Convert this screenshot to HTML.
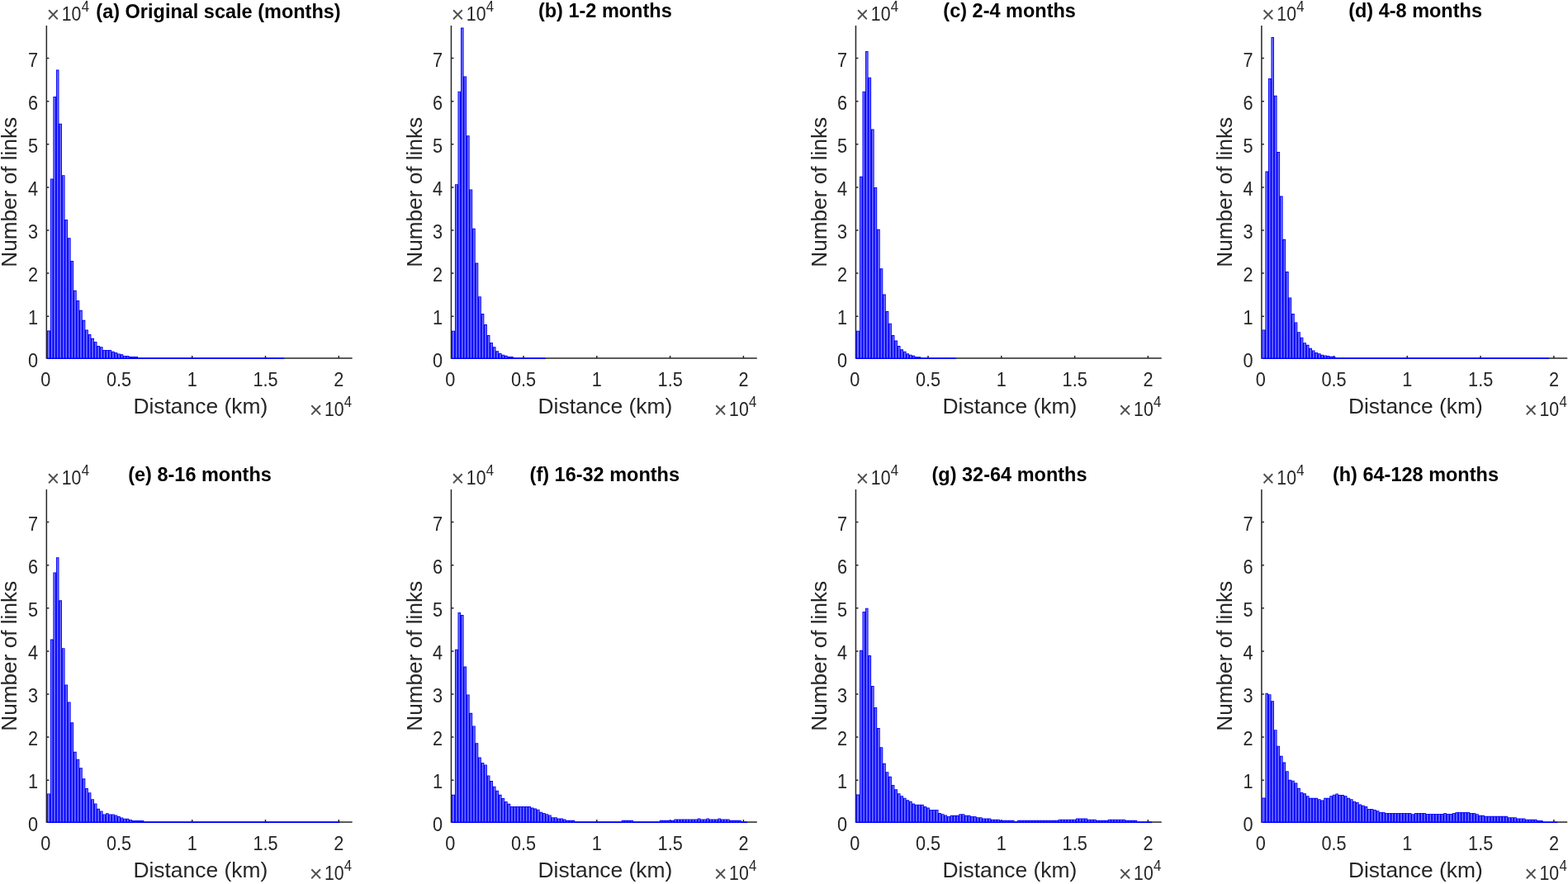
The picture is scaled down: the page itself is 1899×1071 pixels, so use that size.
<!DOCTYPE html>
<html lang="en"><head><meta charset="utf-8"><title>Link distance histograms</title>
<style>
html,body{margin:0;padding:0;background:#fff}
body{width:1899px;height:1071px;overflow:hidden}
svg{display:block;font-family:"Liberation Sans",Arial,Helvetica,sans-serif}
.t{font-size:21.5px;fill:#262626}
.l{font-size:26.4px;fill:#262626}
.h{font-size:23.5px;font-weight:bold;fill:#000}
.x{font-size:27px;fill:#505050}
.s{font-size:16.77px;fill:#262626}
.ax{stroke:#262626;stroke-width:1.5;fill:none}
.be{fill:#0000ff}
.bf{fill:#6c6cff}
.bl{fill:none;stroke:#0000ff;stroke-width:1.6}
</style></head>
<body>
<svg width="1899" height="1071" viewBox="0 0 1899 1071">
<rect width="1899" height="1071" fill="#fff"/>
<g id="p0">
<path class="ax" d="M56.35 31V434.85M343.85 434.1H426.65M143.9 434v-3.0M232.7 434v-3.0M321.5 434v-3.0M410.3 434v-3.0M56.35 383.2h3.0M56.35 331.1h3.0M56.35 279h3.0M56.35 226.9h3.0M56.35 174.8h3.0M56.35 122.7h3.0M56.35 70.6h3.0"/>
<clipPath id="c0"><rect x="54.35" y="26" width="376.3" height="408.95"/></clipPath>
<path class="be" clip-path="url(#c0)" d="M56.85 435V400.57H60.85V216.39H64.39V116.88H67.93V84.58H71.47V149.71H75.01V212.22H78.55V265.89H82.09V288.29H85.63V315.9H89.17V351.85H92.71V364.1H96.25V375.82H99.79V387.8H103.33V399.52H106.87V404.99H110.41V409.84H113.95V413.96H117.49V419.06H121.03V420.26H124.57V423.96H128.11V423.96H131.65V423.96H135.19V425.83H138.73V426.88H142.27V428.44H145.81V429.33H149.35V430.89H152.89V430.89H156.43V431.93H159.97V431.93H163.51V431.93H167.05V433.5H170.59V433.5H174.13V433.5H177.67V433.5H181.21V433.5H184.75V433.5H188.29V433.5H191.83V433.5H195.37V433.5H198.91V433.5H202.45V433.5H205.99V433.5H209.53V433.5H213.07V433.5H216.61V433.5H220.15V433.5H223.69V433.5H227.23V433.5H230.77V433.5H234.31V433.5H237.85V433.5H241.39V433.5H244.93V433.5H248.47V433.5H252.01V433.5H255.55V433.5H259.09V433.5H262.63V433.5H266.17V433.5H269.71V433.5H273.25V433.5H276.79V433.5H280.33V433.5H283.87V433.5H287.41V433.5H290.95V433.5H294.49V433.5H298.03V433.5H301.57V433.5H305.11V433.5H308.65V433.5H312.19V433.5H315.73V433.5H319.27V433.5H322.81V433.5H326.35V433.5H329.89V433.5H333.43V433.5H336.97V433.5H340.51V433.5H344.05V435z"/>
<path class="bf" d="M57.75 433.4V401.47h2.2V433.4zM61.75 433.4V217.29h1.74V433.4zM65.29 433.4V117.78h1.74V433.4zM68.83 433.4V85.48h1.74V433.4zM72.37 433.4V150.61h1.74V433.4zM75.91 433.4V213.12h1.74V433.4zM79.45 433.4V266.79h1.74V433.4zM82.99 433.4V289.19h1.74V433.4zM86.53 433.4V316.8h1.74V433.4zM90.07 433.4V352.75h1.74V433.4zM93.61 433.4V365h1.74V433.4zM97.15 433.4V376.72h1.74V433.4zM100.69 433.4V388.7h1.74V433.4zM104.23 433.4V400.42h1.74V433.4zM107.77 433.4V405.89h1.74V433.4zM111.31 433.4V410.74h1.74V433.4zM114.85 433.4V414.86h1.74V433.4zM118.39 433.4V419.96h1.74V433.4zM121.93 433.4V421.16h1.74V433.4zM125.47 433.4V424.86h1.74V433.4zM129.01 433.4V424.86h1.74V433.4zM132.55 433.4V424.86h1.74V433.4zM136.09 433.4V426.73h1.74V433.4zM139.63 433.4V427.78h1.74V433.4zM143.17 433.4V429.34h1.74V433.4zM146.71 433.4V430.23h1.74V433.4zM150.25 433.4V431.79h1.74V433.4zM153.79 433.4V431.79h1.74V433.4z"/>
<path class="bl" d="M167.05 434.15H344.05"/>
<text class="t" transform="translate(55.2 468) scale(1.01 1.07)" text-anchor="middle">0</text>
<text class="t" transform="translate(144 468) scale(1.01 1.07)" text-anchor="middle">0.5</text>
<text class="t" transform="translate(232.8 468) scale(1.01 1.07)" text-anchor="middle">1</text>
<text class="t" transform="translate(321.6 468) scale(1.01 1.07)" text-anchor="middle">1.5</text>
<text class="t" transform="translate(410.4 468) scale(1.01 1.07)" text-anchor="middle">2</text>
<text class="t" transform="translate(45.95 445.4) scale(1.01 1.07)" text-anchor="end">0</text>
<text class="t" transform="translate(45.95 393.3) scale(1.01 1.07)" text-anchor="end">1</text>
<text class="t" transform="translate(45.95 341.2) scale(1.01 1.07)" text-anchor="end">2</text>
<text class="t" transform="translate(45.95 289.1) scale(1.01 1.07)" text-anchor="end">3</text>
<text class="t" transform="translate(45.95 237) scale(1.01 1.07)" text-anchor="end">4</text>
<text class="t" transform="translate(45.95 184.9) scale(1.01 1.07)" text-anchor="end">5</text>
<text class="t" transform="translate(45.95 132.8) scale(1.01 1.07)" text-anchor="end">6</text>
<text class="t" transform="translate(45.95 80.7) scale(1.01 1.07)" text-anchor="end">7</text>
<text class="x" x="56.45" y="27.2">×</text><text class="t" transform="translate(74.75 24.9) scale(0.99 1.14)">10</text><text class="s" transform="translate(98.65 14) scale(1.0 1.08)">4</text>
<text class="x" x="374.65" y="505.9">×</text><text class="t" transform="translate(392.95 503.6) scale(0.99 1.14)">10</text><text class="s" transform="translate(416.85 492.7) scale(1.0 1.08)">4</text>
<text class="l" x="242.8" y="501.2" text-anchor="middle">Distance (km)</text>
<text class="l" style="font-size:26.2px" transform="translate(20.45 232.8) rotate(-90)" text-anchor="middle">Number of links</text>
<text class="h" transform="translate(264.5 22) scale(1.0 1.03)" text-anchor="middle">(a) Original scale (months)</text>
</g>
<g id="p1">
<path class="ax" d="M546.45 31V434.85M660.49 434.1H916.75M634 434v-3.0M722.8 434v-3.0M811.6 434v-3.0M900.4 434v-3.0M546.45 383.2h3.0M546.45 331.1h3.0M546.45 279h3.0M546.45 226.9h3.0M546.45 174.8h3.0M546.45 122.7h3.0M546.45 70.6h3.0"/>
<clipPath id="c1"><rect x="544.45" y="26" width="376.3" height="408.95"/></clipPath>
<path class="be" clip-path="url(#c1)" d="M546.95 435V400.67H550.95V223.17H554.49V110.63H558.03V33.52H561.57V92.4H565.11V164.29H568.65V229.42H572.19V276.83H575.73V318.51H579.27V359.15H582.81V379.99H586.35V393.01H589.89V406.04H593.43V414.89H596.97V420.26H600.51V425.31H604.05V428.08H607.59V429.64H611.13V430.84H614.67V432.09H618.21V432.09H621.75V433.5H625.29V433.5H628.83V433.5H632.37V433.5H635.91V433.5H639.45V433.5H642.99V433.5H646.53V433.5H650.07V433.5H653.61V433.5H657.15V433.5H660.69V435z"/>
<path class="bf" d="M547.85 433.4V401.57h2.2V433.4zM551.85 433.4V224.07h1.74V433.4zM555.39 433.4V111.53h1.74V433.4zM558.93 433.4V34.42h1.74V433.4zM562.47 433.4V93.3h1.74V433.4zM566.01 433.4V165.19h1.74V433.4zM569.55 433.4V230.32h1.74V433.4zM573.09 433.4V277.73h1.74V433.4zM576.63 433.4V319.41h1.74V433.4zM580.17 433.4V360.05h1.74V433.4zM583.71 433.4V380.89h1.74V433.4zM587.25 433.4V393.91h1.74V433.4zM590.79 433.4V406.94h1.74V433.4zM594.33 433.4V415.79h1.74V433.4zM597.87 433.4V421.16h1.74V433.4zM601.41 433.4V426.21h1.74V433.4zM604.95 433.4V428.98h1.74V433.4zM608.49 433.4V430.54h1.74V433.4zM612.03 433.4V431.74h1.74V433.4z"/>
<path class="bl" d="M621.75 434.15H660.69"/>
<text class="t" transform="translate(545.3 468) scale(1.01 1.07)" text-anchor="middle">0</text>
<text class="t" transform="translate(634.1 468) scale(1.01 1.07)" text-anchor="middle">0.5</text>
<text class="t" transform="translate(722.9 468) scale(1.01 1.07)" text-anchor="middle">1</text>
<text class="t" transform="translate(811.7 468) scale(1.01 1.07)" text-anchor="middle">1.5</text>
<text class="t" transform="translate(900.5 468) scale(1.01 1.07)" text-anchor="middle">2</text>
<text class="t" transform="translate(536.05 445.4) scale(1.01 1.07)" text-anchor="end">0</text>
<text class="t" transform="translate(536.05 393.3) scale(1.01 1.07)" text-anchor="end">1</text>
<text class="t" transform="translate(536.05 341.2) scale(1.01 1.07)" text-anchor="end">2</text>
<text class="t" transform="translate(536.05 289.1) scale(1.01 1.07)" text-anchor="end">3</text>
<text class="t" transform="translate(536.05 237) scale(1.01 1.07)" text-anchor="end">4</text>
<text class="t" transform="translate(536.05 184.9) scale(1.01 1.07)" text-anchor="end">5</text>
<text class="t" transform="translate(536.05 132.8) scale(1.01 1.07)" text-anchor="end">6</text>
<text class="t" transform="translate(536.05 80.7) scale(1.01 1.07)" text-anchor="end">7</text>
<text class="x" x="546.55" y="27.2">×</text><text class="t" transform="translate(564.85 24.9) scale(0.99 1.14)">10</text><text class="s" transform="translate(588.75 14) scale(1.0 1.08)">4</text>
<text class="x" x="864.75" y="505.9">×</text><text class="t" transform="translate(883.05 503.6) scale(0.99 1.14)">10</text><text class="s" transform="translate(906.95 492.7) scale(1.0 1.08)">4</text>
<text class="l" x="732.9" y="501.2" text-anchor="middle">Distance (km)</text>
<text class="l" style="font-size:26.2px" transform="translate(510.55 232.8) rotate(-90)" text-anchor="middle">Number of links</text>
<text class="h" transform="translate(732.8 20.7) scale(1.0 1.03)" text-anchor="middle">(b) 1-2 months</text>
</g>
<g id="p2">
<path class="ax" d="M1036.45 31V434.85M1157.57 434.1H1406.75M1124 434v-3.0M1212.8 434v-3.0M1301.6 434v-3.0M1390.4 434v-3.0M1036.45 383.2h3.0M1036.45 331.1h3.0M1036.45 279h3.0M1036.45 226.9h3.0M1036.45 174.8h3.0M1036.45 122.7h3.0M1036.45 70.6h3.0"/>
<clipPath id="c2"><rect x="1034.45" y="26" width="376.3" height="408.95"/></clipPath>
<path class="be" clip-path="url(#c2)" d="M1036.95 435V400.67H1040.95V213.79H1044.49V110.63H1048.03V61.92H1051.57V93.7H1055.11V156.48H1058.65V227.07H1062.19V277.87H1065.73V325.28H1069.27V356.54H1072.81V377.12H1076.35V391.66H1079.89V406.04H1083.43V412.55H1086.97V419.06H1090.51V423.23H1094.05V425.73H1097.59V428.28H1101.13V429.64H1104.67V430.84H1108.21V432.19H1111.75V432.19H1115.29V433.5H1118.83V433.5H1122.37V433.5H1125.91V433.5H1129.45V433.5H1132.99V433.5H1136.53V433.5H1140.07V433.5H1143.61V433.5H1147.15V433.5H1150.69V433.5H1154.23V433.5H1157.77V435z"/>
<path class="bf" d="M1037.85 433.4V401.57h2.2V433.4zM1041.85 433.4V214.69h1.74V433.4zM1045.39 433.4V111.53h1.74V433.4zM1048.93 433.4V62.82h1.74V433.4zM1052.47 433.4V94.6h1.74V433.4zM1056.01 433.4V157.38h1.74V433.4zM1059.55 433.4V227.97h1.74V433.4zM1063.09 433.4V278.77h1.74V433.4zM1066.63 433.4V326.18h1.74V433.4zM1070.17 433.4V357.44h1.74V433.4zM1073.71 433.4V378.02h1.74V433.4zM1077.25 433.4V392.56h1.74V433.4zM1080.79 433.4V406.94h1.74V433.4zM1084.33 433.4V413.45h1.74V433.4zM1087.87 433.4V419.96h1.74V433.4zM1091.41 433.4V424.13h1.74V433.4zM1094.95 433.4V426.63h1.74V433.4zM1098.49 433.4V429.18h1.74V433.4zM1102.03 433.4V430.54h1.74V433.4zM1105.57 433.4V431.74h1.74V433.4z"/>
<path class="bl" d="M1115.29 434.15H1157.77"/>
<text class="t" transform="translate(1035.3 468) scale(1.01 1.07)" text-anchor="middle">0</text>
<text class="t" transform="translate(1124.1 468) scale(1.01 1.07)" text-anchor="middle">0.5</text>
<text class="t" transform="translate(1212.9 468) scale(1.01 1.07)" text-anchor="middle">1</text>
<text class="t" transform="translate(1301.7 468) scale(1.01 1.07)" text-anchor="middle">1.5</text>
<text class="t" transform="translate(1390.5 468) scale(1.01 1.07)" text-anchor="middle">2</text>
<text class="t" transform="translate(1026.05 445.4) scale(1.01 1.07)" text-anchor="end">0</text>
<text class="t" transform="translate(1026.05 393.3) scale(1.01 1.07)" text-anchor="end">1</text>
<text class="t" transform="translate(1026.05 341.2) scale(1.01 1.07)" text-anchor="end">2</text>
<text class="t" transform="translate(1026.05 289.1) scale(1.01 1.07)" text-anchor="end">3</text>
<text class="t" transform="translate(1026.05 237) scale(1.01 1.07)" text-anchor="end">4</text>
<text class="t" transform="translate(1026.05 184.9) scale(1.01 1.07)" text-anchor="end">5</text>
<text class="t" transform="translate(1026.05 132.8) scale(1.01 1.07)" text-anchor="end">6</text>
<text class="t" transform="translate(1026.05 80.7) scale(1.01 1.07)" text-anchor="end">7</text>
<text class="x" x="1036.55" y="27.2">×</text><text class="t" transform="translate(1054.85 24.9) scale(0.99 1.14)">10</text><text class="s" transform="translate(1078.75 14) scale(1.0 1.08)">4</text>
<text class="x" x="1354.75" y="505.9">×</text><text class="t" transform="translate(1373.05 503.6) scale(0.99 1.14)">10</text><text class="s" transform="translate(1396.95 492.7) scale(1.0 1.08)">4</text>
<text class="l" x="1222.9" y="501.2" text-anchor="middle">Distance (km)</text>
<text class="l" style="font-size:26.2px" transform="translate(1000.55 232.8) rotate(-90)" text-anchor="middle">Number of links</text>
<text class="h" transform="translate(1222.6 20.7) scale(1.0 1.03)" text-anchor="middle">(c) 2-4 months</text>
</g>
<g id="p3">
<path class="ax" d="M1527.9 31V434.85M1875.58 434.1H1898.2M1615.45 434v-3.0M1704.25 434v-3.0M1793.05 434v-3.0M1881.85 434v-3.0M1527.9 383.2h3.0M1527.9 331.1h3.0M1527.9 279h3.0M1527.9 226.9h3.0M1527.9 174.8h3.0M1527.9 122.7h3.0M1527.9 70.6h3.0"/>
<clipPath id="c3"><rect x="1525.9" y="26" width="376.3" height="408.95"/></clipPath>
<path class="be" clip-path="url(#c3)" d="M1528.4 435V399.47H1532.4V207.54H1535.94V95H1539.48V44.98H1543.02V115.84H1546.56V184.09H1550.1V237.49H1553.64V289.85H1557.18V329.09H1560.72V360.45H1564.26V379.99H1567.8V390.41H1571.34V402.18H1574.88V408.64H1578.42V415.15H1581.96V417.86H1585.5V421.82H1589.04V424.38H1592.58V426.93H1596.12V428.28H1599.66V429.64H1603.2V430.42H1606.74V431.04H1610.28V431.83H1613.82V431.83H1617.36V433.5H1620.9V433.5H1624.44V433.5H1627.98V433.5H1631.52V433.5H1635.06V433.5H1638.6V433.5H1642.14V433.5H1645.68V433.5H1649.22V433.5H1652.76V433.5H1656.3V433.5H1659.84V433.5H1663.38V433.5H1666.92V433.5H1670.46V433.5H1674V433.5H1677.54V433.5H1681.08V433.5H1684.62V433.5H1688.16V433.5H1691.7V433.5H1695.24V433.5H1698.78V433.5H1702.32V433.5H1705.86V433.5H1709.4V433.5H1712.94V433.5H1716.48V433.5H1720.02V433.5H1723.56V433.5H1727.1V433.5H1730.64V433.5H1734.18V433.5H1737.72V433.5H1741.26V433.5H1744.8V433.5H1748.34V433.5H1751.88V433.5H1755.42V433.5H1758.96V433.5H1762.5V433.5H1766.04V433.5H1769.58V433.5H1773.12V433.5H1776.66V433.5H1780.2V433.5H1783.74V433.5H1787.28V433.5H1790.82V433.5H1794.36V433.5H1797.9V433.5H1801.44V433.5H1804.98V433.5H1808.52V433.5H1812.06V433.5H1815.6V433.5H1819.14V433.5H1822.68V433.5H1826.22V433.5H1829.76V433.5H1833.3V433.5H1836.84V433.5H1840.38V433.5H1843.92V433.5H1847.46V433.5H1851V433.5H1854.54V433.5H1858.08V433.5H1861.62V433.5H1865.16V433.5H1868.7V433.5H1872.24V433.5H1875.78V435z"/>
<path class="bf" d="M1529.3 433.4V400.37h2.2V433.4zM1533.3 433.4V208.44h1.74V433.4zM1536.84 433.4V95.9h1.74V433.4zM1540.38 433.4V45.88h1.74V433.4zM1543.92 433.4V116.74h1.74V433.4zM1547.46 433.4V184.99h1.74V433.4zM1551 433.4V238.39h1.74V433.4zM1554.54 433.4V290.75h1.74V433.4zM1558.08 433.4V329.99h1.74V433.4zM1561.62 433.4V361.35h1.74V433.4zM1565.16 433.4V380.89h1.74V433.4zM1568.7 433.4V391.31h1.74V433.4zM1572.24 433.4V403.08h1.74V433.4zM1575.78 433.4V409.54h1.74V433.4zM1579.32 433.4V416.05h1.74V433.4zM1582.86 433.4V418.76h1.74V433.4zM1586.4 433.4V422.72h1.74V433.4zM1589.94 433.4V425.28h1.74V433.4zM1593.48 433.4V427.83h1.74V433.4zM1597.02 433.4V429.18h1.74V433.4zM1600.56 433.4V430.54h1.74V433.4zM1604.1 433.4V431.32h1.74V433.4zM1607.64 433.4V431.94h1.74V433.4zM1611.18 433.4V432.73h1.74V433.4zM1614.72 433.4V432.73h1.74V433.4z"/>
<path class="bl" d="M1617.36 434.15H1875.78"/>
<text class="t" transform="translate(1526.75 468) scale(1.01 1.07)" text-anchor="middle">0</text>
<text class="t" transform="translate(1615.55 468) scale(1.01 1.07)" text-anchor="middle">0.5</text>
<text class="t" transform="translate(1704.35 468) scale(1.01 1.07)" text-anchor="middle">1</text>
<text class="t" transform="translate(1793.15 468) scale(1.01 1.07)" text-anchor="middle">1.5</text>
<text class="t" transform="translate(1881.95 468) scale(1.01 1.07)" text-anchor="middle">2</text>
<text class="t" transform="translate(1517.5 445.4) scale(1.01 1.07)" text-anchor="end">0</text>
<text class="t" transform="translate(1517.5 393.3) scale(1.01 1.07)" text-anchor="end">1</text>
<text class="t" transform="translate(1517.5 341.2) scale(1.01 1.07)" text-anchor="end">2</text>
<text class="t" transform="translate(1517.5 289.1) scale(1.01 1.07)" text-anchor="end">3</text>
<text class="t" transform="translate(1517.5 237) scale(1.01 1.07)" text-anchor="end">4</text>
<text class="t" transform="translate(1517.5 184.9) scale(1.01 1.07)" text-anchor="end">5</text>
<text class="t" transform="translate(1517.5 132.8) scale(1.01 1.07)" text-anchor="end">6</text>
<text class="t" transform="translate(1517.5 80.7) scale(1.01 1.07)" text-anchor="end">7</text>
<text class="x" x="1528" y="27.2">×</text><text class="t" transform="translate(1546.3 24.9) scale(0.99 1.14)">10</text><text class="s" transform="translate(1570.2 14) scale(1.0 1.08)">4</text>
<text class="x" x="1846.2" y="505.9">×</text><text class="t" transform="translate(1864.5 503.6) scale(0.99 1.14)">10</text><text class="s" transform="translate(1888.4 492.7) scale(1.0 1.08)">4</text>
<text class="l" x="1714.35" y="501.2" text-anchor="middle">Distance (km)</text>
<text class="l" style="font-size:26.2px" transform="translate(1492 232.8) rotate(-90)" text-anchor="middle">Number of links</text>
<text class="h" transform="translate(1714.05 20.7) scale(1.0 1.03)" text-anchor="middle">(d) 4-8 months</text>
</g>
<g id="p4">
<path class="ax" d="M56.35 593V996.85M411.11 996.1H426.65M143.9 996v-3.0M232.7 996v-3.0M321.5 996v-3.0M410.3 996v-3.0M56.35 945.2h3.0M56.35 893.1h3.0M56.35 841h3.0M56.35 788.9h3.0M56.35 736.8h3.0M56.35 684.7h3.0M56.35 632.6h3.0"/>
<clipPath id="c4"><rect x="54.35" y="588" width="376.3" height="408.95"/></clipPath>
<path class="be" clip-path="url(#c4)" d="M56.85 997V961.47H60.85V774.49H64.39V693.47H67.93V675.24H71.47V727.33H75.01V785.17H78.55V829.45H82.09V850.45H85.63V875.3H89.17V910.73H92.71V919.69H96.25V930.26H99.79V943.24H103.33V955.01H106.87V960.22H110.41V968.14H113.95V973.4H117.49V979.86H121.03V982.42H124.57V986.38H128.11V985.23H131.65V986.38H135.19V986.38H138.73V987.47H142.27V989.09H145.81V990.44H149.35V991.64H152.89V991.64H156.43V992.89H159.97V994.09H163.51V994.09H167.05V994.09H170.59V994.09H174.13V995.5H177.67V995.5H181.21V995.5H184.75V995.5H188.29V995.5H191.83V995.5H195.37V995.5H198.91V995.5H202.45V995.5H205.99V995.5H209.53V995.5H213.07V995.5H216.61V995.5H220.15V995.5H223.69V995.5H227.23V995.5H230.77V995.5H234.31V995.5H237.85V995.5H241.39V995.5H244.93V995.5H248.47V995.5H252.01V995.5H255.55V995.5H259.09V995.5H262.63V995.5H266.17V995.5H269.71V995.5H273.25V995.5H276.79V995.5H280.33V995.5H283.87V995.5H287.41V995.5H290.95V995.5H294.49V995.5H298.03V995.5H301.57V995.5H305.11V995.5H308.65V995.5H312.19V995.5H315.73V995.5H319.27V995.5H322.81V995.5H326.35V995.5H329.89V995.5H333.43V995.5H336.97V995.5H340.51V995.5H344.05V995.5H347.59V995.5H351.13V995.5H354.67V995.5H358.21V995.5H361.75V995.5H365.29V995.5H368.83V995.5H372.37V995.5H375.91V995.5H379.45V995.5H382.99V995.5H386.53V995.5H390.07V995.5H393.61V995.5H397.15V995.5H400.69V995.5H404.23V995.5H407.77V995.5H411.31V997z"/>
<path class="bf" d="M57.75 995.4V962.37h2.2V995.4zM61.75 995.4V775.39h1.74V995.4zM65.29 995.4V694.37h1.74V995.4zM68.83 995.4V676.13h1.74V995.4zM72.37 995.4V728.23h1.74V995.4zM75.91 995.4V786.07h1.74V995.4zM79.45 995.4V830.35h1.74V995.4zM82.99 995.4V851.35h1.74V995.4zM86.53 995.4V876.2h1.74V995.4zM90.07 995.4V911.63h1.74V995.4zM93.61 995.4V920.59h1.74V995.4zM97.15 995.4V931.16h1.74V995.4zM100.69 995.4V944.14h1.74V995.4zM104.23 995.4V955.91h1.74V995.4zM107.77 995.4V961.12h1.74V995.4zM111.31 995.4V969.04h1.74V995.4zM114.85 995.4V974.3h1.74V995.4zM118.39 995.4V980.76h1.74V995.4zM121.93 995.4V983.32h1.74V995.4zM125.47 995.4V987.28h1.74V995.4zM129.01 995.4V986.13h1.74V995.4zM132.55 995.4V987.28h1.74V995.4zM136.09 995.4V987.28h1.74V995.4zM139.63 995.4V988.37h1.74V995.4zM143.17 995.4V989.99h1.74V995.4zM146.71 995.4V991.34h1.74V995.4zM150.25 995.4V992.54h1.74V995.4zM153.79 995.4V992.54h1.74V995.4zM157.33 995.4V993.79h1.74V995.4z"/>
<path class="bl" d="M174.13 996.15H411.31"/>
<text class="t" transform="translate(55.2 1030) scale(1.01 1.07)" text-anchor="middle">0</text>
<text class="t" transform="translate(144 1030) scale(1.01 1.07)" text-anchor="middle">0.5</text>
<text class="t" transform="translate(232.8 1030) scale(1.01 1.07)" text-anchor="middle">1</text>
<text class="t" transform="translate(321.6 1030) scale(1.01 1.07)" text-anchor="middle">1.5</text>
<text class="t" transform="translate(410.4 1030) scale(1.01 1.07)" text-anchor="middle">2</text>
<text class="t" transform="translate(45.95 1007.4) scale(1.01 1.07)" text-anchor="end">0</text>
<text class="t" transform="translate(45.95 955.3) scale(1.01 1.07)" text-anchor="end">1</text>
<text class="t" transform="translate(45.95 903.2) scale(1.01 1.07)" text-anchor="end">2</text>
<text class="t" transform="translate(45.95 851.1) scale(1.01 1.07)" text-anchor="end">3</text>
<text class="t" transform="translate(45.95 799) scale(1.01 1.07)" text-anchor="end">4</text>
<text class="t" transform="translate(45.95 746.9) scale(1.01 1.07)" text-anchor="end">5</text>
<text class="t" transform="translate(45.95 694.8) scale(1.01 1.07)" text-anchor="end">6</text>
<text class="t" transform="translate(45.95 642.7) scale(1.01 1.07)" text-anchor="end">7</text>
<text class="x" x="56.45" y="589.2">×</text><text class="t" transform="translate(74.75 586.9) scale(0.99 1.14)">10</text><text class="s" transform="translate(98.65 576) scale(1.0 1.08)">4</text>
<text class="x" x="374.65" y="1067.9">×</text><text class="t" transform="translate(392.95 1065.6) scale(0.99 1.14)">10</text><text class="s" transform="translate(416.85 1054.7) scale(1.0 1.08)">4</text>
<text class="l" x="242.8" y="1063.2" text-anchor="middle">Distance (km)</text>
<text class="l" style="font-size:26.2px" transform="translate(20.45 794.8) rotate(-90)" text-anchor="middle">Number of links</text>
<text class="h" transform="translate(242 582.7) scale(1.0 1.03)" text-anchor="middle">(e) 8-16 months</text>
</g>
<g id="p5">
<path class="ax" d="M546.45 593V996.85M904.75 996.1H916.75M634 996v-3.0M722.8 996v-3.0M811.6 996v-3.0M900.4 996v-3.0M546.45 945.2h3.0M546.45 893.1h3.0M546.45 841h3.0M546.45 788.9h3.0M546.45 736.8h3.0M546.45 684.7h3.0M546.45 632.6h3.0"/>
<clipPath id="c5"><rect x="544.45" y="588" width="376.3" height="408.95"/></clipPath>
<path class="be" clip-path="url(#c5)" d="M546.95 997V962.83H550.95V786.73H554.49V741.92H558.03V745.05H561.57V807.57H565.11V841.43H568.65V863.84H572.19V879.47H575.73V900.31H579.27V917.5H582.81V923.96H586.35V926.46H589.89V939.38H593.43V946.05H596.97V952.67H600.51V957.72H604.05V962.83H607.59V967.1H611.13V970.95H614.67V973.77H618.21V977H621.75V977H625.29V977H628.83V977H632.37V977H635.91V977H639.45V977H642.99V978.61H646.53V979.55H650.07V980.65H653.61V983.82H657.15V984.92H660.69V986.17H664.23V987.42H667.77V990.13H671.31V990.13H674.85V991.38H678.39V991.38H681.93V992.47H685.47V993.77H689.01V993.77H692.55V993.77H696.09V995.5H699.63V995.5H703.17V995.5H706.71V995.5H710.25V995.5H713.79V995.5H717.33V995.5H720.87V995.5H724.41V995.5H727.95V995.5H731.49V995.5H735.03V995.5H738.57V995.5H742.11V995.5H745.65V995.5H749.19V995.5H752.73V993.77H756.27V993.77H759.81V993.77H763.35V993.77H766.89V995.5H770.43V995.5H773.97V995.5H777.51V995.5H781.05V995.5H784.59V995.5H788.13V995.5H791.67V995.5H795.21V995.5H798.75V993.77H802.29V993.77H805.83V993.77H809.37V993.77H812.91V993.77H816.45V992.47H819.99V992.47H823.53V992.47H827.07V992.47H830.61V992.47H834.15V992.47H837.69V992.47H841.23V992.47H844.77V991.38H848.31V992.47H851.85V992.47H855.39V991.38H858.93V992.47H862.47V992.47H866.01V992.47H869.55V991.38H873.09V992.47H876.63V992.47H880.17V992.47H883.71V993.77H887.25V993.77H890.79V993.77H894.33V993.77H897.87V995.5H901.41V995.5H904.95V997z"/>
<path class="bf" d="M547.85 995.4V963.73h2.2V995.4zM551.85 995.4V787.63h1.74V995.4zM555.39 995.4V742.82h1.74V995.4zM558.93 995.4V745.95h1.74V995.4zM562.47 995.4V808.47h1.74V995.4zM566.01 995.4V842.33h1.74V995.4zM569.55 995.4V864.74h1.74V995.4zM573.09 995.4V880.37h1.74V995.4zM576.63 995.4V901.21h1.74V995.4zM580.17 995.4V918.4h1.74V995.4zM583.71 995.4V924.86h1.74V995.4zM587.25 995.4V927.36h1.74V995.4zM590.79 995.4V940.28h1.74V995.4zM594.33 995.4V946.95h1.74V995.4zM597.87 995.4V953.57h1.74V995.4zM601.41 995.4V958.62h1.74V995.4zM604.95 995.4V963.73h1.74V995.4zM608.49 995.4V968h1.74V995.4zM612.03 995.4V971.85h1.74V995.4zM615.57 995.4V974.67h1.74V995.4zM619.11 995.4V977.9h1.74V995.4zM622.65 995.4V977.9h1.74V995.4zM626.19 995.4V977.9h1.74V995.4zM629.73 995.4V977.9h1.74V995.4zM633.27 995.4V977.9h1.74V995.4zM636.81 995.4V977.9h1.74V995.4zM640.35 995.4V977.9h1.74V995.4zM643.89 995.4V979.51h1.74V995.4zM647.43 995.4V980.45h1.74V995.4zM650.97 995.4V981.55h1.74V995.4zM654.51 995.4V984.72h1.74V995.4zM658.05 995.4V985.82h1.74V995.4zM661.59 995.4V987.07h1.74V995.4zM665.13 995.4V988.32h1.74V995.4zM668.67 995.4V991.03h1.74V995.4zM672.21 995.4V991.03h1.74V995.4zM675.75 995.4V992.28h1.74V995.4zM679.29 995.4V992.28h1.74V995.4zM682.83 995.4V993.37h1.74V995.4zM686.37 995.4V994.67h1.74V995.4zM689.91 995.4V994.67h1.74V995.4zM693.45 995.4V994.67h1.74V995.4zM753.63 995.4V994.67h1.74V995.4zM757.17 995.4V994.67h1.74V995.4zM760.71 995.4V994.67h1.74V995.4zM764.25 995.4V994.67h1.74V995.4zM799.65 995.4V994.67h1.74V995.4zM803.19 995.4V994.67h1.74V995.4zM806.73 995.4V994.67h1.74V995.4zM810.27 995.4V994.67h1.74V995.4zM813.81 995.4V994.67h1.74V995.4zM817.35 995.4V993.37h1.74V995.4zM820.89 995.4V993.37h1.74V995.4zM824.43 995.4V993.37h1.74V995.4zM827.97 995.4V993.37h1.74V995.4zM831.51 995.4V993.37h1.74V995.4zM835.05 995.4V993.37h1.74V995.4zM838.59 995.4V993.37h1.74V995.4zM842.13 995.4V993.37h1.74V995.4zM845.67 995.4V992.28h1.74V995.4zM849.21 995.4V993.37h1.74V995.4zM852.75 995.4V993.37h1.74V995.4zM856.29 995.4V992.28h1.74V995.4zM859.83 995.4V993.37h1.74V995.4zM863.37 995.4V993.37h1.74V995.4zM866.91 995.4V993.37h1.74V995.4zM870.45 995.4V992.28h1.74V995.4zM873.99 995.4V993.37h1.74V995.4zM877.53 995.4V993.37h1.74V995.4zM881.07 995.4V993.37h1.74V995.4zM884.61 995.4V994.67h1.74V995.4zM888.15 995.4V994.67h1.74V995.4zM891.69 995.4V994.67h1.74V995.4zM895.23 995.4V994.67h1.74V995.4z"/>
<path class="bl" d="M696.09 996.15H752.73M766.89 996.15H798.75M897.87 996.15H904.95"/>
<text class="t" transform="translate(545.3 1030) scale(1.01 1.07)" text-anchor="middle">0</text>
<text class="t" transform="translate(634.1 1030) scale(1.01 1.07)" text-anchor="middle">0.5</text>
<text class="t" transform="translate(722.9 1030) scale(1.01 1.07)" text-anchor="middle">1</text>
<text class="t" transform="translate(811.7 1030) scale(1.01 1.07)" text-anchor="middle">1.5</text>
<text class="t" transform="translate(900.5 1030) scale(1.01 1.07)" text-anchor="middle">2</text>
<text class="t" transform="translate(536.05 1007.4) scale(1.01 1.07)" text-anchor="end">0</text>
<text class="t" transform="translate(536.05 955.3) scale(1.01 1.07)" text-anchor="end">1</text>
<text class="t" transform="translate(536.05 903.2) scale(1.01 1.07)" text-anchor="end">2</text>
<text class="t" transform="translate(536.05 851.1) scale(1.01 1.07)" text-anchor="end">3</text>
<text class="t" transform="translate(536.05 799) scale(1.01 1.07)" text-anchor="end">4</text>
<text class="t" transform="translate(536.05 746.9) scale(1.01 1.07)" text-anchor="end">5</text>
<text class="t" transform="translate(536.05 694.8) scale(1.01 1.07)" text-anchor="end">6</text>
<text class="t" transform="translate(536.05 642.7) scale(1.01 1.07)" text-anchor="end">7</text>
<text class="x" x="546.55" y="589.2">×</text><text class="t" transform="translate(564.85 586.9) scale(0.99 1.14)">10</text><text class="s" transform="translate(588.75 576) scale(1.0 1.08)">4</text>
<text class="x" x="864.75" y="1067.9">×</text><text class="t" transform="translate(883.05 1065.6) scale(0.99 1.14)">10</text><text class="s" transform="translate(906.95 1054.7) scale(1.0 1.08)">4</text>
<text class="l" x="732.9" y="1063.2" text-anchor="middle">Distance (km)</text>
<text class="l" style="font-size:26.2px" transform="translate(510.55 794.8) rotate(-90)" text-anchor="middle">Number of links</text>
<text class="h" transform="translate(732.3 582.7) scale(1.0 1.03)" text-anchor="middle">(f) 16-32 months</text>
</g>
<g id="p6">
<path class="ax" d="M1036.45 593V996.85M1394.75 996.1H1406.75M1124 996v-3.0M1212.8 996v-3.0M1301.6 996v-3.0M1390.4 996v-3.0M1036.45 945.2h3.0M1036.45 893.1h3.0M1036.45 841h3.0M1036.45 788.9h3.0M1036.45 736.8h3.0M1036.45 684.7h3.0M1036.45 632.6h3.0"/>
<clipPath id="c6"><rect x="1034.45" y="588" width="376.3" height="408.95"/></clipPath>
<path class="be" clip-path="url(#c6)" d="M1036.95 997V962.62H1040.95V787.77H1044.49V740.88H1048.03V736.71H1051.57V794.02H1055.11V831.01H1058.65V857.06H1062.19V882.07H1065.73V905.2H1069.27V924.79H1072.81V935.21H1076.35V940.79H1079.89V950.95H1083.43V956.26H1086.97V961.37H1090.51V964.13H1094.05V966.68H1097.59V969.24H1101.13V970.75H1104.67V973.56H1108.21V974.65H1111.75V974.65H1115.29V974.65H1118.83V977H1122.37V978.61H1125.91V980.96H1129.45V980.96H1132.99V980.96H1136.53V985.07H1140.07V986.17H1143.61V987.42H1147.15V988.88H1150.69V987.73H1154.23V987.73H1157.77V987.73H1161.31V986.17H1164.85V986.17H1168.39V987.73H1171.93V987.73H1175.47V988.88H1179.01V988.88H1182.55V990.13H1186.09V990.13H1189.63V991.38H1193.17V991.38H1196.71V991.38H1200.25V992.63H1203.79V992.63H1207.33V992.63H1210.87V993.77H1214.41V993.77H1217.95V993.77H1221.49V993.77H1225.03V993.77H1228.57V995.5H1232.11V993.77H1235.65V993.77H1239.19V993.77H1242.73V993.77H1246.27V993.77H1249.81V993.77H1253.35V993.77H1256.89V993.77H1260.43V993.77H1263.97V993.77H1267.51V993.77H1271.05V993.77H1274.59V993.77H1278.13V993.77H1281.67V992.63H1285.21V992.63H1288.75V992.63H1292.29V992.63H1295.83V992.63H1299.37V992.63H1302.91V991.38H1306.45V991.38H1309.99V991.38H1313.53V991.38H1317.07V992.63H1320.61V992.63H1324.15V992.63H1327.69V993.77H1331.23V993.77H1334.77V993.77H1338.31V993.77H1341.85V992.63H1345.39V992.63H1348.93V992.63H1352.47V992.63H1356.01V992.63H1359.55V992.63H1363.09V993.77H1366.63V993.77H1370.17V993.77H1373.71V993.77H1377.25V995.5H1380.79V995.5H1384.33V995.5H1387.87V995.5H1391.41V995.5H1394.95V997z"/>
<path class="bf" d="M1037.85 995.4V963.52h2.2V995.4zM1041.85 995.4V788.67h1.74V995.4zM1045.39 995.4V741.78h1.74V995.4zM1048.93 995.4V737.61h1.74V995.4zM1052.47 995.4V794.92h1.74V995.4zM1056.01 995.4V831.91h1.74V995.4zM1059.55 995.4V857.96h1.74V995.4zM1063.09 995.4V882.97h1.74V995.4zM1066.63 995.4V906.1h1.74V995.4zM1070.17 995.4V925.69h1.74V995.4zM1073.71 995.4V936.11h1.74V995.4zM1077.25 995.4V941.69h1.74V995.4zM1080.79 995.4V951.85h1.74V995.4zM1084.33 995.4V957.16h1.74V995.4zM1087.87 995.4V962.27h1.74V995.4zM1091.41 995.4V965.03h1.74V995.4zM1094.95 995.4V967.58h1.74V995.4zM1098.49 995.4V970.14h1.74V995.4zM1102.03 995.4V971.65h1.74V995.4zM1105.57 995.4V974.46h1.74V995.4zM1109.11 995.4V975.55h1.74V995.4zM1112.65 995.4V975.55h1.74V995.4zM1116.19 995.4V975.55h1.74V995.4zM1119.73 995.4V977.9h1.74V995.4zM1123.27 995.4V979.51h1.74V995.4zM1126.81 995.4V981.86h1.74V995.4zM1130.35 995.4V981.86h1.74V995.4zM1133.89 995.4V981.86h1.74V995.4zM1137.43 995.4V985.97h1.74V995.4zM1140.97 995.4V987.07h1.74V995.4zM1144.51 995.4V988.32h1.74V995.4zM1148.05 995.4V989.78h1.74V995.4zM1151.59 995.4V988.63h1.74V995.4zM1155.13 995.4V988.63h1.74V995.4zM1158.67 995.4V988.63h1.74V995.4zM1162.21 995.4V987.07h1.74V995.4zM1165.75 995.4V987.07h1.74V995.4zM1169.29 995.4V988.63h1.74V995.4zM1172.83 995.4V988.63h1.74V995.4zM1176.37 995.4V989.78h1.74V995.4zM1179.91 995.4V989.78h1.74V995.4zM1183.45 995.4V991.03h1.74V995.4zM1186.99 995.4V991.03h1.74V995.4zM1190.53 995.4V992.28h1.74V995.4zM1194.07 995.4V992.28h1.74V995.4zM1197.61 995.4V992.28h1.74V995.4zM1201.15 995.4V993.53h1.74V995.4zM1204.69 995.4V993.53h1.74V995.4zM1208.23 995.4V993.53h1.74V995.4zM1211.77 995.4V994.67h1.74V995.4zM1215.31 995.4V994.67h1.74V995.4zM1218.85 995.4V994.67h1.74V995.4zM1222.39 995.4V994.67h1.74V995.4zM1225.93 995.4V994.67h1.74V995.4zM1233.01 995.4V994.67h1.74V995.4zM1236.55 995.4V994.67h1.74V995.4zM1240.09 995.4V994.67h1.74V995.4zM1243.63 995.4V994.67h1.74V995.4zM1247.17 995.4V994.67h1.74V995.4zM1250.71 995.4V994.67h1.74V995.4zM1254.25 995.4V994.67h1.74V995.4zM1257.79 995.4V994.67h1.74V995.4zM1261.33 995.4V994.67h1.74V995.4zM1264.87 995.4V994.67h1.74V995.4zM1268.41 995.4V994.67h1.74V995.4zM1271.95 995.4V994.67h1.74V995.4zM1275.49 995.4V994.67h1.74V995.4zM1279.03 995.4V994.67h1.74V995.4zM1282.57 995.4V993.53h1.74V995.4zM1286.11 995.4V993.53h1.74V995.4zM1289.65 995.4V993.53h1.74V995.4zM1293.19 995.4V993.53h1.74V995.4zM1296.73 995.4V993.53h1.74V995.4zM1300.27 995.4V993.53h1.74V995.4zM1303.81 995.4V992.28h1.74V995.4zM1307.35 995.4V992.28h1.74V995.4zM1310.89 995.4V992.28h1.74V995.4zM1314.43 995.4V992.28h1.74V995.4zM1317.97 995.4V993.53h1.74V995.4zM1321.51 995.4V993.53h1.74V995.4zM1325.05 995.4V993.53h1.74V995.4zM1328.59 995.4V994.67h1.74V995.4zM1332.13 995.4V994.67h1.74V995.4zM1335.67 995.4V994.67h1.74V995.4zM1339.21 995.4V994.67h1.74V995.4zM1342.75 995.4V993.53h1.74V995.4zM1346.29 995.4V993.53h1.74V995.4zM1349.83 995.4V993.53h1.74V995.4zM1353.37 995.4V993.53h1.74V995.4zM1356.91 995.4V993.53h1.74V995.4zM1360.45 995.4V993.53h1.74V995.4zM1363.99 995.4V994.67h1.74V995.4zM1367.53 995.4V994.67h1.74V995.4zM1371.07 995.4V994.67h1.74V995.4zM1374.61 995.4V994.67h1.74V995.4z"/>
<path class="bl" d="M1228.57 996.15H1232.11M1377.25 996.15H1394.95"/>
<text class="t" transform="translate(1035.3 1030) scale(1.01 1.07)" text-anchor="middle">0</text>
<text class="t" transform="translate(1124.1 1030) scale(1.01 1.07)" text-anchor="middle">0.5</text>
<text class="t" transform="translate(1212.9 1030) scale(1.01 1.07)" text-anchor="middle">1</text>
<text class="t" transform="translate(1301.7 1030) scale(1.01 1.07)" text-anchor="middle">1.5</text>
<text class="t" transform="translate(1390.5 1030) scale(1.01 1.07)" text-anchor="middle">2</text>
<text class="t" transform="translate(1026.05 1007.4) scale(1.01 1.07)" text-anchor="end">0</text>
<text class="t" transform="translate(1026.05 955.3) scale(1.01 1.07)" text-anchor="end">1</text>
<text class="t" transform="translate(1026.05 903.2) scale(1.01 1.07)" text-anchor="end">2</text>
<text class="t" transform="translate(1026.05 851.1) scale(1.01 1.07)" text-anchor="end">3</text>
<text class="t" transform="translate(1026.05 799) scale(1.01 1.07)" text-anchor="end">4</text>
<text class="t" transform="translate(1026.05 746.9) scale(1.01 1.07)" text-anchor="end">5</text>
<text class="t" transform="translate(1026.05 694.8) scale(1.01 1.07)" text-anchor="end">6</text>
<text class="t" transform="translate(1026.05 642.7) scale(1.01 1.07)" text-anchor="end">7</text>
<text class="x" x="1036.55" y="589.2">×</text><text class="t" transform="translate(1054.85 586.9) scale(0.99 1.14)">10</text><text class="s" transform="translate(1078.75 576) scale(1.0 1.08)">4</text>
<text class="x" x="1354.75" y="1067.9">×</text><text class="t" transform="translate(1373.05 1065.6) scale(0.99 1.14)">10</text><text class="s" transform="translate(1396.95 1054.7) scale(1.0 1.08)">4</text>
<text class="l" x="1222.9" y="1063.2" text-anchor="middle">Distance (km)</text>
<text class="l" style="font-size:26.2px" transform="translate(1000.55 794.8) rotate(-90)" text-anchor="middle">Number of links</text>
<text class="h" transform="translate(1222.5 582.7) scale(1.0 1.03)" text-anchor="middle">(g) 32-64 months</text>
</g>
<g id="p7">
<path class="ax" d="M1527.9 593V996.85M1886.2 996.1H1898.2M1615.45 996v-3.0M1704.25 996v-3.0M1793.05 996v-3.0M1881.85 996v-3.0M1527.9 945.2h3.0M1527.9 893.1h3.0M1527.9 841h3.0M1527.9 788.9h3.0M1527.9 736.8h3.0M1527.9 684.7h3.0M1527.9 632.6h3.0"/>
<clipPath id="c7"><rect x="1525.9" y="588" width="376.3" height="408.95"/></clipPath>
<path class="be" clip-path="url(#c7)" d="M1528.4 997V966.58H1532.4V839.87H1535.94V841.17H1539.48V849.25H1543.02V884.16H1546.56V903.69H1550.1V915.78H1553.64V923.6H1557.18V934.17H1560.72V944.85H1564.26V945.69H1567.8V948.6H1571.34V954.86H1574.88V960.12H1578.42V961.32H1581.96V964.23H1585.5V966.79H1589.04V966.79H1592.58V966.79H1596.12V968.14H1599.66V969.5H1603.2V966.79H1606.74V966.79H1610.28V964.23H1613.82V962.67H1617.36V961.47H1620.9V963.04H1624.44V963.04H1627.98V964.23H1631.52V966.79H1635.06V968.14H1638.6V970.69H1642.14V972.05H1645.68V974.6H1649.22V975.7H1652.76V977.05H1656.3V979.92H1659.84V979.92H1663.38V980.96H1666.92V982.26H1670.46V983.88H1674V983.88H1677.54V984.92H1681.08V984.92H1684.62V984.92H1688.16V984.92H1691.7V984.92H1695.24V984.92H1698.78V984.92H1702.32V984.92H1705.86V984.92H1709.4V986.22H1712.94V984.92H1716.48V984.92H1720.02V984.92H1723.56V984.92H1727.1V985.96H1730.64V985.96H1734.18V985.96H1737.72V985.96H1741.26V985.96H1744.8V985.96H1748.34V984.92H1751.88V985.96H1755.42V985.96H1758.96V984.92H1762.5V983.88H1766.04V983.88H1769.58V983.88H1773.12V983.88H1776.66V983.88H1780.2V984.92H1783.74V984.92H1787.28V986.22H1790.82V987.78H1794.36V987.78H1797.9V988.82H1801.44V988.82H1804.98V988.82H1808.52V988.82H1812.06V988.82H1815.6V988.82H1819.14V988.82H1822.68V988.82H1826.22V990.13H1829.76V990.13H1833.3V990.13H1836.84V991.43H1840.38V991.43H1843.92V991.43H1847.46V992.78H1851V992.78H1854.54V992.78H1858.08V992.78H1861.62V994.09H1865.16V994.09H1868.7V995.5H1872.24V995.5H1875.78V995.5H1879.32V995.5H1882.86V995.5H1886.4V997z"/>
<path class="bf" d="M1529.3 995.4V967.48h2.2V995.4zM1533.3 995.4V840.77h1.74V995.4zM1536.84 995.4V842.07h1.74V995.4zM1540.38 995.4V850.15h1.74V995.4zM1543.92 995.4V885.06h1.74V995.4zM1547.46 995.4V904.59h1.74V995.4zM1551 995.4V916.68h1.74V995.4zM1554.54 995.4V924.5h1.74V995.4zM1558.08 995.4V935.07h1.74V995.4zM1561.62 995.4V945.75h1.74V995.4zM1565.16 995.4V946.59h1.74V995.4zM1568.7 995.4V949.5h1.74V995.4zM1572.24 995.4V955.76h1.74V995.4zM1575.78 995.4V961.02h1.74V995.4zM1579.32 995.4V962.22h1.74V995.4zM1582.86 995.4V965.13h1.74V995.4zM1586.4 995.4V967.69h1.74V995.4zM1589.94 995.4V967.69h1.74V995.4zM1593.48 995.4V967.69h1.74V995.4zM1597.02 995.4V969.04h1.74V995.4zM1600.56 995.4V970.4h1.74V995.4zM1604.1 995.4V967.69h1.74V995.4zM1607.64 995.4V967.69h1.74V995.4zM1611.18 995.4V965.13h1.74V995.4zM1614.72 995.4V963.57h1.74V995.4zM1618.26 995.4V962.37h1.74V995.4zM1621.8 995.4V963.94h1.74V995.4zM1625.34 995.4V963.94h1.74V995.4zM1628.88 995.4V965.13h1.74V995.4zM1632.42 995.4V967.69h1.74V995.4zM1635.96 995.4V969.04h1.74V995.4zM1639.5 995.4V971.59h1.74V995.4zM1643.04 995.4V972.95h1.74V995.4zM1646.58 995.4V975.5h1.74V995.4zM1650.12 995.4V976.6h1.74V995.4zM1653.66 995.4V977.95h1.74V995.4zM1657.2 995.4V980.82h1.74V995.4zM1660.74 995.4V980.82h1.74V995.4zM1664.28 995.4V981.86h1.74V995.4zM1667.82 995.4V983.16h1.74V995.4zM1671.36 995.4V984.78h1.74V995.4zM1674.9 995.4V984.78h1.74V995.4zM1678.44 995.4V985.82h1.74V995.4zM1681.98 995.4V985.82h1.74V995.4zM1685.52 995.4V985.82h1.74V995.4zM1689.06 995.4V985.82h1.74V995.4zM1692.6 995.4V985.82h1.74V995.4zM1696.14 995.4V985.82h1.74V995.4zM1699.68 995.4V985.82h1.74V995.4zM1703.22 995.4V985.82h1.74V995.4zM1706.76 995.4V985.82h1.74V995.4zM1710.3 995.4V987.12h1.74V995.4zM1713.84 995.4V985.82h1.74V995.4zM1717.38 995.4V985.82h1.74V995.4zM1720.92 995.4V985.82h1.74V995.4zM1724.46 995.4V985.82h1.74V995.4zM1728 995.4V986.86h1.74V995.4zM1731.54 995.4V986.86h1.74V995.4zM1735.08 995.4V986.86h1.74V995.4zM1738.62 995.4V986.86h1.74V995.4zM1742.16 995.4V986.86h1.74V995.4zM1745.7 995.4V986.86h1.74V995.4zM1749.24 995.4V985.82h1.74V995.4zM1752.78 995.4V986.86h1.74V995.4zM1756.32 995.4V986.86h1.74V995.4zM1759.86 995.4V985.82h1.74V995.4zM1763.4 995.4V984.78h1.74V995.4zM1766.94 995.4V984.78h1.74V995.4zM1770.48 995.4V984.78h1.74V995.4zM1774.02 995.4V984.78h1.74V995.4zM1777.56 995.4V984.78h1.74V995.4zM1781.1 995.4V985.82h1.74V995.4zM1784.64 995.4V985.82h1.74V995.4zM1788.18 995.4V987.12h1.74V995.4zM1791.72 995.4V988.68h1.74V995.4zM1795.26 995.4V988.68h1.74V995.4zM1798.8 995.4V989.72h1.74V995.4zM1802.34 995.4V989.72h1.74V995.4zM1805.88 995.4V989.72h1.74V995.4zM1809.42 995.4V989.72h1.74V995.4zM1812.96 995.4V989.72h1.74V995.4zM1816.5 995.4V989.72h1.74V995.4zM1820.04 995.4V989.72h1.74V995.4zM1823.58 995.4V989.72h1.74V995.4zM1827.12 995.4V991.03h1.74V995.4zM1830.66 995.4V991.03h1.74V995.4zM1834.2 995.4V991.03h1.74V995.4zM1837.74 995.4V992.33h1.74V995.4zM1841.28 995.4V992.33h1.74V995.4zM1844.82 995.4V992.33h1.74V995.4zM1848.36 995.4V993.68h1.74V995.4zM1851.9 995.4V993.68h1.74V995.4zM1855.44 995.4V993.68h1.74V995.4zM1858.98 995.4V993.68h1.74V995.4z"/>
<path class="bl" d="M1868.7 996.15H1886.4"/>
<text class="t" transform="translate(1526.75 1030) scale(1.01 1.07)" text-anchor="middle">0</text>
<text class="t" transform="translate(1615.55 1030) scale(1.01 1.07)" text-anchor="middle">0.5</text>
<text class="t" transform="translate(1704.35 1030) scale(1.01 1.07)" text-anchor="middle">1</text>
<text class="t" transform="translate(1793.15 1030) scale(1.01 1.07)" text-anchor="middle">1.5</text>
<text class="t" transform="translate(1881.95 1030) scale(1.01 1.07)" text-anchor="middle">2</text>
<text class="t" transform="translate(1517.5 1007.4) scale(1.01 1.07)" text-anchor="end">0</text>
<text class="t" transform="translate(1517.5 955.3) scale(1.01 1.07)" text-anchor="end">1</text>
<text class="t" transform="translate(1517.5 903.2) scale(1.01 1.07)" text-anchor="end">2</text>
<text class="t" transform="translate(1517.5 851.1) scale(1.01 1.07)" text-anchor="end">3</text>
<text class="t" transform="translate(1517.5 799) scale(1.01 1.07)" text-anchor="end">4</text>
<text class="t" transform="translate(1517.5 746.9) scale(1.01 1.07)" text-anchor="end">5</text>
<text class="t" transform="translate(1517.5 694.8) scale(1.01 1.07)" text-anchor="end">6</text>
<text class="t" transform="translate(1517.5 642.7) scale(1.01 1.07)" text-anchor="end">7</text>
<text class="x" x="1528" y="589.2">×</text><text class="t" transform="translate(1546.3 586.9) scale(0.99 1.14)">10</text><text class="s" transform="translate(1570.2 576) scale(1.0 1.08)">4</text>
<text class="x" x="1846.2" y="1067.9">×</text><text class="t" transform="translate(1864.5 1065.6) scale(0.99 1.14)">10</text><text class="s" transform="translate(1888.4 1054.7) scale(1.0 1.08)">4</text>
<text class="l" x="1714.35" y="1063.2" text-anchor="middle">Distance (km)</text>
<text class="l" style="font-size:26.2px" transform="translate(1492 794.8) rotate(-90)" text-anchor="middle">Number of links</text>
<text class="h" transform="translate(1714.45 582.7) scale(1.0 1.03)" text-anchor="middle">(h) 64-128 months</text>
</g>
</svg>
</body></html>
